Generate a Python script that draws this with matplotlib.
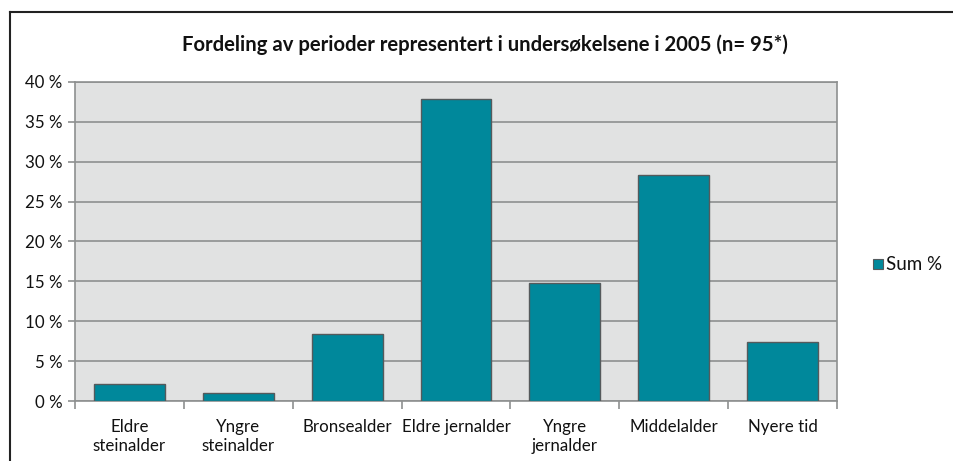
import matplotlib
matplotlib.use("Agg")
import matplotlib.pyplot as plt
from matplotlib.lines import Line2D
from matplotlib.patches import Rectangle
from matplotlib.ticker import FuncFormatter, MultipleLocator

categories = ["Eldre\nsteinalder", "Yngre\nsteinalder", "Bronsealder", "Eldre jernalder",
              "Yngre\njernalder", "Middelalder", "Nyere tid"]
values = [2.1, 1.05, 8.4, 37.9, 14.75, 28.4, 7.35]
series_name = "Sum %"
title = "Fordeling av perioder representert i undersøkelsene i 2005 (n= 95*)"

plt.rcParams['font.family'] = ['Lato', 'DejaVu Sans']

W, H = 954, 461
fig = plt.figure(figsize=(W / 100, H / 100), dpi=100)
fig.patch.set_facecolor("white")

# outer chart frame (top + left visible)
fig.add_artist(Line2D([10 / W, 10 / W], [0, 1 - 12.5 / H], transform=fig.transFigure,
                      color="#222222", lw=1.5))
fig.add_artist(Line2D([10 / W, 1], [1 - 12.5 / H, 1 - 12.5 / H], transform=fig.transFigure,
                      color="#222222", lw=1.5))

ax = fig.add_axes([75 / W, (H - 401) / H, (837 - 75) / W, (401 - 82) / H])
ax.set_facecolor("#e1e2e2")
x = list(range(len(categories)))
ax.bar(x, values, width=0.65, color="#00889b", edgecolor="#555a5c", linewidth=1.0,
       zorder=3, label=series_name)
ax.set_xlim(-0.5, len(categories) - 0.5)
ax.set_ylim(0, 40)
ax.yaxis.set_major_locator(MultipleLocator(5))
ax.yaxis.set_major_formatter(FuncFormatter(lambda v, p: f"{int(v)} %"))
ax.grid(axis="y", color="#8e9090", lw=1.2, zorder=1)
ax.set_xticks(x)
ax.set_xticklabels(categories, fontsize=12.2, color="#111111", linespacing=1.2)
ax.set_xticks([i + 0.5 for i in range(-1, len(categories))], minor=True)
ax.tick_params(axis="x", which="major", length=0, pad=13)
ax.tick_params(axis="x", which="minor", length=6, color="#8e9090", width=1.2)
ax.tick_params(axis="y", length=5, color="#8e9090", width=1.2, labelsize=12.2,
               labelcolor="#111111", pad=4)
for s in ax.spines.values():
    s.set_color("#8e9090")
    s.set_linewidth(1.2)

fig.text(485 / W, 1 - 45 / H, title, ha="center", va="center", fontsize=14.6,
         fontweight="bold", color="#111111")

# legend
fig.patches.append(Rectangle((873 / W, 1 - 269 / H), 10 / W, 10 / H, transform=fig.transFigure,
                             facecolor="#00889b", edgecolor="#555a5c", lw=0.8))
fig.text(886 / W, 1 - 264 / H, series_name, ha="left", va="center", fontsize=13.5,
         color="#111111")

fig.savefig("out.png", dpi=100)
